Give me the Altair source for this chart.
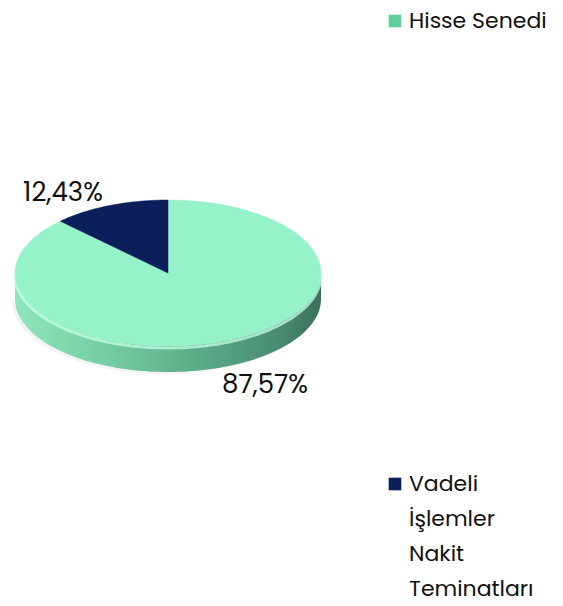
import altair as alt
import pandas as pd

# ---- data ----
categories = ["Hisse Senedi", "Vadeli İşlemler Nakit Teminatları"]
values = [87.57, 12.43]
colors = ["#96f2c8", "#0b1f5b"]
legend_colors = ["#5fcf9c", "#0b1f5b"]

df = pd.DataFrame({"label": categories, "value": values})

# ---- geometry (layout constants, view pixels) ----
W, H = 547, 590
CX, CY, A, B, DEPTH = 160, 265, 153, 73, 26
FONT = "Poppins, Inter, sans-serif"

xs = alt.Scale(domain=[0, W], nice=False, zero=False)
ys = alt.Scale(domain=[0, H], nice=False, zero=False, reverse=True)

# shadow (soft, behind the pie)
shadow = alt.Chart(alt.sequence(0, 101, as_="i")).transform_calculate(
    t="PI * datum.i / 100"
).transform_calculate(
    px=f"{CX - 3} + {A}*cos(datum.t)",
    py=f"{CY + DEPTH + 2} + {B}*sin(datum.t)",
    py2=f"{CY + DEPTH + 2} - {B}*sin(datum.t)*0.2",
).mark_area(color="#9a9a9a", opacity=0.12).encode(
    x=alt.X("px:Q", scale=xs, axis=None),
    y=alt.Y("py:Q", scale=ys, axis=None),
    y2="py2:Q",
)

# side band of the 3D pie (front half)
side_grad = alt.Gradient(
    gradient="linear",
    stops=[
        alt.GradientStop(color="#8fe6bd", offset=0),
        alt.GradientStop(color="#74cda4", offset=0.3),
        alt.GradientStop(color="#5bab89", offset=0.6),
        alt.GradientStop(color="#4a8d72", offset=0.85),
        alt.GradientStop(color="#3a715b", offset=1),
    ],
    x1=0, x2=1, y1=0, y2=0,
)
side = alt.Chart(alt.sequence(0, 101, as_="i")).transform_calculate(
    t="PI * datum.i / 100"
).transform_calculate(
    px=f"{CX} + {A}*cos(datum.t)",
    py=f"{CY} + {B}*sin(datum.t)",
    py2=f"{CY} + {B}*sin(datum.t) + {DEPTH}",
).mark_area(color=side_grad).encode(
    x=alt.X("px:Q", scale=xs, axis=None),
    y=alt.Y("py:Q", scale=ys, axis=None),
    y2="py2:Q",
)

edge = alt.Chart(alt.sequence(0, 101, as_="i")).transform_calculate(
    t="PI * datum.i / 100"
).transform_calculate(
    px=f"{CX} + {A}*cos(datum.t)",
    py=f"{CY} + {B}*sin(datum.t) + 2",
).mark_line(stroke="#c6ffe7", strokeWidth=3, opacity=0.75).encode(
    x=alt.X("px:Q", scale=xs, axis=None),
    y=alt.Y("py:Q", scale=ys, axis=None),
    order="i:Q",
)

# pie top face, slices drawn from values
pie_base = alt.Chart(df).transform_joinaggregate(
    total="sum(value)"
).transform_window(
    cum="sum(value)", frame=[None, 0]
).transform_calculate(
    start="(datum.cum - datum.value) / datum.total * 2 * PI",
    end="datum.cum / datum.total * 2 * PI",
    idx="sequence(0, 62)",
).transform_flatten(["idx"]).transform_calculate(
    ang="datum.start + (datum.end - datum.start) * (datum.idx - 1) / 59"
).transform_calculate(
    px=f"(datum.idx == 0 || datum.idx == 61) ? {CX} : {CX} + {A}*sin(datum.ang)",
    py=f"(datum.idx == 0 || datum.idx == 61) ? {CY} : {CY} - {B}*cos(datum.ang)",
)

slices = []
for cat, col in zip(categories, colors):
    slices.append(
        pie_base.transform_filter(alt.datum.label == cat)
        .mark_line(fill=col, stroke=col, strokeWidth=0.5)
        .encode(
            x=alt.X("px:Q", scale=xs, axis=None),
            y=alt.Y("py:Q", scale=ys, axis=None),
            order="idx:Q",
        )
    )

# data labels
label_pos = {categories[0]: (257, 377), categories[1]: (55, 185)}
lab_base = alt.Chart(df).transform_joinaggregate(total="sum(value)").transform_calculate(
    txt="replace(format(datum.value / datum.total * 100, '.2f'), '.', ',') + '%'"
)
labels = []
for cat in categories:
    lx, ly = label_pos[cat]
    labels.append(
        lab_base.transform_filter(alt.datum.label == cat)
        .mark_text(font=FONT, fontSize=26, color="#111111", align="center", baseline="middle")
        .encode(x=alt.value(lx), y=alt.value(ly), text="txt:N")
    )

# legend (manual, placed like the reference)
leg = []
leg.append(alt.Chart(df).mark_square(size=160, color=legend_colors[0], opacity=1).encode(
    x=alt.value(387), y=alt.value(13)).transform_filter(alt.datum.label == categories[0]))
leg.append(alt.Chart(df).mark_text(font=FONT, fontSize=22, color="#111111", align="left",
                                   baseline="middle", text=categories[0]).encode(
    x=alt.value(401), y=alt.value(13)).transform_filter(alt.datum.label == categories[0]))
leg.append(alt.Chart(df).mark_square(size=160, color=legend_colors[1], opacity=1).encode(
    x=alt.value(387), y=alt.value(476)).transform_filter(alt.datum.label == categories[1]))
leg.append(alt.Chart(df).mark_text(font=FONT, fontSize=22, color="#111111", align="left",
                                   baseline="middle", lineHeight=35,
                                   text=categories[1].split(" ")).encode(
    x=alt.value(401), y=alt.value(476)).transform_filter(alt.datum.label == categories[1]))

chart = alt.layer(shadow, side, edge, *slices, *labels, *leg).properties(
    width=W, height=H, padding=0, autosize="none"
).configure_view(stroke=None)

chart.save("out.html", embed_options={"renderer": "svg", "actions": False})
